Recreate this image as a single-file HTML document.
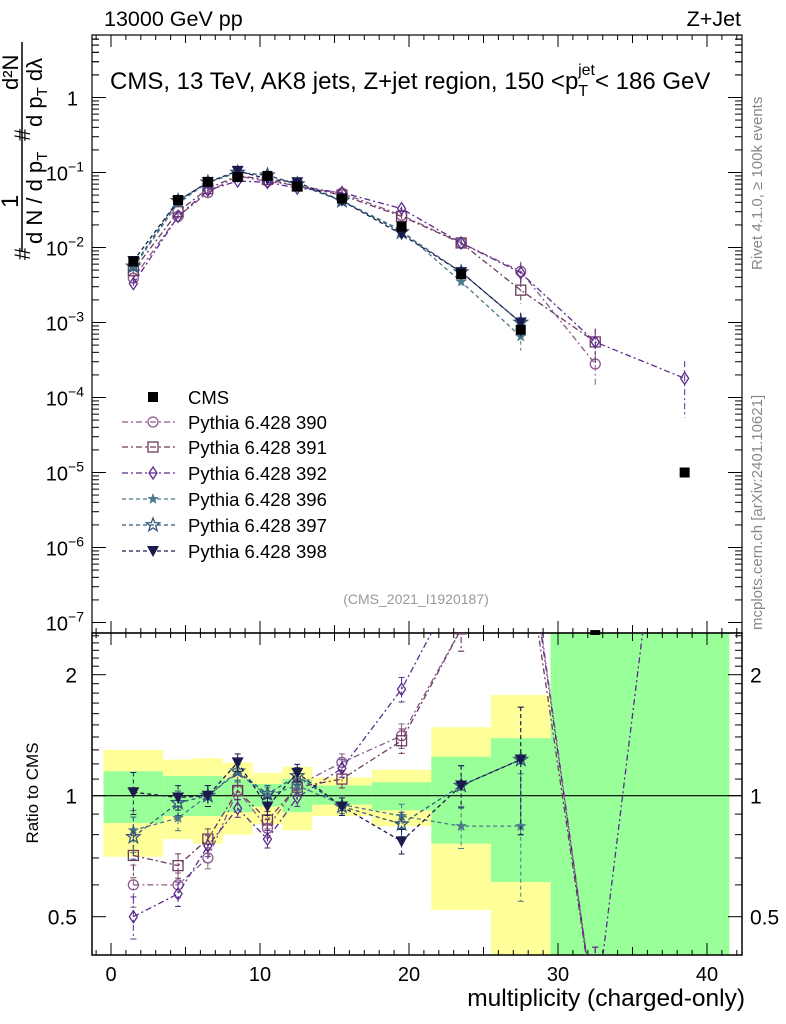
<!DOCTYPE html>
<html><head><meta charset="utf-8"><style>
html,body{margin:0;padding:0;background:#fff;overflow:hidden;width:786px;height:1024px;}
svg{font-family:"Liberation Sans",sans-serif;display:block;}
</style></head><body>
<svg id="c" width="786" height="1024" xmlns="http://www.w3.org/2000/svg">
<text x="104" y="26" font-size="21.5">13000 GeV pp</text>
<text x="741" y="26" font-size="21.5" text-anchor="end">Z+Jet</text>
<text x="110" y="89" font-size="24">CMS, 13 TeV, AK8 jets, Z+jet region, 150 &lt;p<tspan font-size="16" dy="7">T</tspan><tspan font-size="16" dy="-21" dx="-10">jet</tspan><tspan dy="14">&lt; 186 GeV</tspan></text>
<text x="416" y="604" font-size="14" fill="#999" text-anchor="middle">(CMS_2021_I1920187)</text>
<text transform="translate(762,270) rotate(-90)" font-size="15" fill="#888">Rivet 4.1.0, ≥ 100k events</text>
<text transform="translate(762,630) rotate(-90)" font-size="15" fill="#888">mcplots.cern.ch [arXiv:2401.10621]</text>
<g font-size="22">
<text transform="translate(18,90) rotate(-90)">d²N</text>
<text transform="translate(18,208) rotate(-90)" font-size="24">1</text>
<line x1="22" y1="42" x2="22" y2="252" stroke="#000" stroke-width="1.5"/>
<text transform="translate(30,141) rotate(-90)">#</text>
<text transform="translate(30,260) rotate(-90)">#</text>
<text transform="translate(42,127) rotate(-90)">d p<tspan font-size="15" dy="5">T</tspan><tspan dy="-5"> dλ</tspan></text>
<text transform="translate(42,244) rotate(-90)">d N / d p<tspan font-size="15" dy="5">T</tspan></text>
</g>
<text transform="translate(38,793) rotate(-90)" font-size="17" text-anchor="middle">Ratio to CMS</text>
<text x="745" y="1006" font-size="24.5" text-anchor="end">multiplicity (charged-only)</text>
<g id="bands"></g><g id="axes"></g><g id="marks"></g><g id="legend"></g>
</svg>
<script>
const binCenters=[1.5,4.5,6.5,8.5,10.5,12.5,15.5,19.5,23.5,27.5,32.5,38.5];
const binEdges=[-0.5,3.5,5.5,7.5,9.5,11.5,13.5,17.5,21.5,25.5,29.5,35.5,41.5];
const cmsValues=[6.5e-3,4.3e-2,7.5e-2,8.7e-2,9.0e-2,6.5e-2,4.5e-2,1.9e-2,4.4e-3,8.0e-4,6.8e-8,1.0e-5];
const yellowHi=[1.30,1.23,1.24,1.21,1.14,1.18,1.11,1.16,1.48,1.78,10,10];
const yellowLo=[0.705,0.78,0.76,0.80,0.85,0.82,0.89,0.84,0.52,0.3,0.1,0.1];
const greenHi=[1.15,1.12,1.12,1.10,1.07,1.10,1.06,1.08,1.25,1.39,10,10];
const greenLo=[0.855,0.89,0.89,0.91,0.94,0.91,0.95,0.92,0.76,0.61,0.1,0.1];
const main390=[3.9e-3,2.6e-2,5.4e-2,9.0e-2,7.6e-2,6.7e-2,5.3e-2,2.7e-2,1.15e-2,4.8e-3,2.8e-4,null];
const main391=[4.9e-3,3.0e-2,6.1e-2,9.0e-2,8.1e-2,6.6e-2,5.0e-2,2.6e-2,1.15e-2,2.7e-3,5.5e-4,null];
const main392=[3.3e-3,2.6e-2,5.8e-2,7.7e-2,7.4e-2,6.2e-2,5.4e-2,3.3e-2,1.15e-2,4.6e-3,5.5e-4,1.8e-4];
const main396=[5.4e-3,3.9e-2,7.4e-2,1.0e-1,9.2e-2,6.9e-2,4.2e-2,1.7e-2,3.5e-3,6.5e-4,null,null];
const main397=[5.6e-3,4.2e-2,7.4e-2,1.0e-1,9.2e-2,7.0e-2,4.2e-2,1.6e-2,4.7e-3,1.0e-3,null,null];
const main398=[6.6e-3,4.2e-2,7.4e-2,1.05e-1,8.2e-2,7.4e-2,4.2e-2,1.5e-2,4.7e-3,1.0e-3,null,null];
const ratio390=[0.60,0.60,0.70,1.03,0.83,1.06,1.21,1.41,2.6,6,0.28,null];
const ratio391=[0.71,0.67,0.78,1.03,0.87,1.05,1.10,1.37,2.6,5,0.28,null];
const ratio392=[0.50,0.57,0.75,0.93,0.78,0.99,1.17,1.84,3.5,5.8,0.28,18];
const ratio396=[0.82,0.88,1.0,1.14,1.0,1.06,0.95,0.89,0.84,0.84,null,null];
const ratio397=[0.79,0.96,1.0,1.15,1.01,1.12,0.94,0.85,1.06,1.23,null,null];
const ratio398=[1.02,0.99,1.0,1.21,0.94,1.14,0.94,0.77,1.06,1.23,null,null];
const relErr=[0.12,0.07,0.06,0.05,0.05,0.05,0.05,0.07,0.12,0.35,0.5,0.7];
const xTicks=[0,10,20,30,40];
const mainTicks=[-7,-6,-5,-4,-3,-2,-1,0];
const ratioTicks=[0.5,1,2];

const NS="http://www.w3.org/2000/svg";
const L=92,R=742,T=35,MB=633,RB=955;
const X=v=>111+v*14.9;
const YM=v=>97.5-Math.log10(v)*75;
const YR=v=>795.7-Math.log2(v)*121;
function mk(tag,attrs,parent){const e=document.createElementNS(NS,tag);for(const k in attrs)e.setAttribute(k,attrs[k]);parent.appendChild(e);return e;}
const svg=document.getElementById('c');
const defs=mk('defs',{},svg);
const cm=mk('clipPath',{id:'cm'},defs);mk('rect',{x:L,y:T,width:R-L,height:MB-T+2},cm);
const cr=mk('clipPath',{id:'cr'},defs);mk('rect',{x:L,y:MB,width:R-L,height:RB-MB},cr);

const bands=document.getElementById('bands');
const bg=mk('g',{'clip-path':'url(#cr)'},bands);
for(let i=0;i<binCenters.length;i++){
  const x0=X(binEdges[i]),x1=X(binEdges[i+1]);
  let r=mk('rect',{x:x0,y:YR(yellowHi[i]),width:x1-x0,height:YR(yellowLo[i])-YR(yellowHi[i]),fill:'#ffff99'},bg);
  
  
  r=mk('rect',{x:x0,y:YR(greenHi[i]),width:x1-x0,height:YR(greenLo[i])-YR(greenHi[i]),fill:'#99ff99'},bg);
  
  
}
const ax=document.getElementById('axes');
mk('rect',{x:L,y:T,width:R-L,height:MB-T,fill:'none',stroke:'#000','stroke-width':1.2},ax);
mk('rect',{x:L,y:MB,width:R-L,height:RB-MB,fill:'none',stroke:'#000','stroke-width':1.5},ax);
const one=mk('line',{x1:L,x2:R,y1:YR(1),y2:YR(1),stroke:'#000','stroke-width':1.2},ax);


for(let v=-1;v<=42;v++){
  if(X(v)<L||X(v)>R)continue;
  const big=v%10===0, mid=v%5===0;const len=big?12:(mid?8:5);
  mk('line',{x1:X(v),x2:X(v),y1:T,y2:T+len,stroke:'#000'},ax);
  mk('line',{x1:X(v),x2:X(v),y1:MB,y2:MB-len,stroke:'#000'},ax);
  mk('line',{x1:X(v),x2:X(v),y1:MB,y2:MB+len,stroke:'#000'},ax);
  mk('line',{x1:X(v),x2:X(v),y1:RB,y2:RB-len,stroke:'#000'},ax);
}
xTicks.forEach(v=>{const t=mk('text',{x:X(v),y:981,'font-size':20,'text-anchor':'middle'},ax);t.textContent=v;
 
 });
mainTicks.forEach(p=>{
  for(let m=1;m<10;m++){const y=YM(m*Math.pow(10,p));if(y<T||y>MB)continue;const len=m===1?14:7;
    mk('line',{x1:L,x2:L+len,y1:y,y2:y,stroke:'#000'},ax);mk('line',{x1:R,x2:R-len,y1:y,y2:y,stroke:'#000'},ax);}
  const t=mk('text',{x:p===0?78:84,y:YM(Math.pow(10,p))+8,'font-size':20,'text-anchor':'end'},ax);
  
  
  if(p===0)t.textContent='1';else{t.textContent='10';const s=mk('tspan',{dy:-9,'font-size':14},t);s.textContent='−'+(-p);}
});
for(let m=2;m<=6;m++){const y=YM(m);mk('line',{x1:L,x2:L+7,y1:y,y2:y,stroke:'#000'},ax);mk('line',{x1:R,x2:R-7,y1:y,y2:y,stroke:'#000'},ax);}
[0.4,0.5,0.6,0.7,0.8,0.9,1,1.1,1.2,1.3,1.4,1.5,1.6,1.7,1.8,1.9,2,2.1,2.2,2.3,2.4,2.5].forEach(v=>{const y=YR(v);if(y<MB||y>RB)return;
 const len=(v===0.5||v===1||v===2)?14:7;mk('line',{x1:L,x2:L+len,y1:y,y2:y,stroke:'#000'},ax);mk('line',{x1:R,x2:R-len,y1:y,y2:y,stroke:'#000'},ax);});
ratioTicks.forEach(v=>{
 let t=mk('text',{x:77,y:YR(v)+8,'font-size':21,'text-anchor':'end'},ax);t.textContent=v;
 
 
 t=mk('text',{x:750,y:YR(v)+8,'font-size':21},ax);t.textContent=v;
 
 
});
const series=[
 {n:'390',main:main390,ratio:ratio390,c:'#8a5a8a',m:'circle',d:'6,3,2,3'},
 {n:'391',main:main391,ratio:ratio391,c:'#6e3a5e',m:'square',d:'6,3,2,3'},
 {n:'392',main:main392,ratio:ratio392,c:'#5a2a8e',m:'diamond',d:'6,3,2,3'},
 {n:'396',main:main396,ratio:ratio396,c:'#4a7a88',m:'star',d:'4,3'},
 {n:'397',main:main397,ratio:ratio397,c:'#34587a',m:'ostar',d:'4,3'},
 {n:'398',main:main398,ratio:ratio398,c:'#1a1a4e',m:'tri',d:'4,3'}];
function starPts(cx,cy,r){let p=[];for(let i=0;i<10;i++){const a=-Math.PI/2+i*Math.PI/5,rr=i%2?r*0.42:r;p.push((cx+rr*Math.cos(a)).toFixed(1)+','+(cy+rr*Math.sin(a)).toFixed(1));}return p.join(' ');}
function marker(type,cx,cy,c,g){
 let e;
 if(type==='circle')e=mk('circle',{cx,cy,r:5,fill:'none',stroke:c,'stroke-width':1.3},g);
 else if(type==='square')e=mk('rect',{x:cx-5,y:cy-5,width:10,height:10,fill:'none',stroke:c,'stroke-width':1.3},g);
 else if(type==='diamond')e=mk('polygon',{points:`${cx},${cy-6} ${cx+4},${cy} ${cx},${cy+6} ${cx-4},${cy}`,fill:'none',stroke:c,'stroke-width':1.3},g);
 else if(type==='star')e=mk('polygon',{points:starPts(cx,cy,6),fill:c},g);
 else if(type==='ostar')e=mk('polygon',{points:starPts(cx,cy,7),fill:'none',stroke:c,'stroke-width':1.3},g);
 else if(type==='tri')e=mk('polygon',{points:`${cx-6},${cy-5} ${cx+6},${cy-5} ${cx},${cy+6}`,fill:c},g);
 else e=mk('rect',{x:cx-5,y:cy-5,width:10,height:10,fill:'#000'},g);
 return e;
}
const marks=document.getElementById('marks');
const gm=mk('g',{'clip-path':'url(#cm)'},marks);
const gr=mk('g',{'clip-path':'url(#cr)'},marks);
series.forEach(s=>{
 const gs=mk('g',{},gm);
 
 
 const pts=[];s.main.forEach((v,i)=>{if(v!=null)pts.push(X(binCenters[i])+','+YM(v));});
 mk('polyline',{points:pts.join(' '),fill:'none',stroke:s.c,'stroke-width':1.3,'stroke-dasharray':s.d},gs);
 s.main.forEach((v,i)=>{if(v==null)return;const x=X(binCenters[i]);
  mk('line',{x1:x,x2:x,y1:YM(v*(1+relErr[i])),y2:YM(Math.max(v*(1-relErr[i]),1e-9)),stroke:s.c,'stroke-dasharray':s.d},gs);
  const m=marker(s.m,x,YM(v),s.c,gs);
  
  });
 const gq=mk('g',{},gr);
 
 
 const rp=[];s.ratio.forEach((v,i)=>{if(v!=null)rp.push(X(binCenters[i])+','+YR(v));});
 mk('polyline',{points:rp.join(' '),fill:'none',stroke:s.c,'stroke-width':1.3,'stroke-dasharray':s.d},gq);
 s.ratio.forEach((v,i)=>{if(v==null)return;const x=X(binCenters[i]);
  mk('line',{x1:x,x2:x,y1:YR(v*(1+relErr[i])),y2:YR(v*(1-relErr[i])),stroke:s.c,'stroke-dasharray':s.d},gq);
  mk('line',{x1:x-3,x2:x+3,y1:YR(v*(1+relErr[i])),y2:YR(v*(1+relErr[i])),stroke:s.c},gq);
  mk('line',{x1:x-3,x2:x+3,y1:YR(v*(1-relErr[i])),y2:YR(v*(1-relErr[i])),stroke:s.c},gq);
  const m=marker(s.m,x,YR(v),s.c,gq);
  
  });
});
cmsValues.forEach((v,i)=>{const x=X(binCenters[i]);const m=marker('cms',x,YM(v),'#000',gm);
 
 });
const lg=document.getElementById('legend');


const rows=[397,422,447,473,499,525,551];
marker('cms',153,rows[0],'#000',lg);
let t=mk('text',{x:188,y:rows[0]+7,'font-size':18.5},lg);t.textContent='CMS';


series.forEach((s,k)=>{const y=rows[k+1];
 mk('line',{x1:122,x2:176,y1:y,y2:y,stroke:s.c,'stroke-width':1.2,'stroke-dasharray':s.d},lg);
 marker(s.m,153,y,s.c,lg);
 const tt=mk('text',{x:188,y:y+7,'font-size':18.5},lg);tt.textContent='Pythia 6.428 '+s.n;
 
 });
</script>
</body></html>
